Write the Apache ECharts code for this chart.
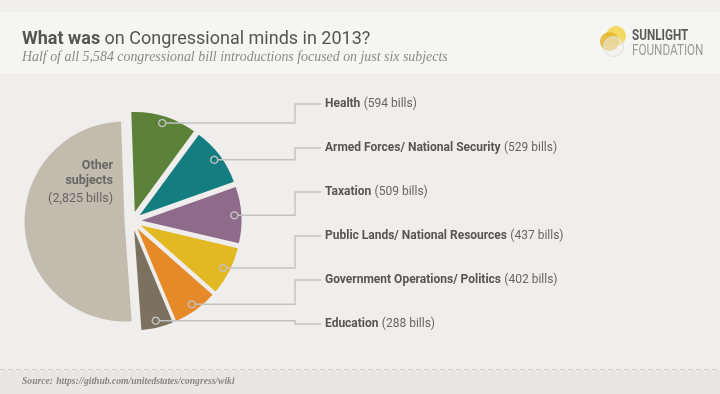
<!DOCTYPE html>
<html><head><meta charset="utf-8">
<script src="https://cdn.jsdelivr.net/npm/echarts@6/dist/echarts.min.js"></script>
<style>html,body{margin:0;padding:0;background:#efeeec}#c{width:720px;height:394px}</style>
</head><body><div id="c"></div>
<script>
// ---- data ----
const subjects = ['Health', 'Armed Forces/ National Security', 'Taxation', 'Public Lands/ National Resources', 'Government Operations/ Politics', 'Education', 'Other subjects'];
const bills = [594, 529, 509, 437, 402, 288, 2825];
const sliceColors = ['#5b8238', '#137d7f', '#8e6b8b', '#e2b823', '#e68a29', '#7c705e', '#c1bcad'];

// ---- layout ----
const total = bills.reduce((a, b) => a + b, 0);
const START = 92;
const CX = 132, CY = 221, R = 100;
const OFF = 9.5, OFF_OTHER = 7.5;
const LABEL_X = 325, LINE_X = 295, LABEL_Y0 = 104, LABEL_STEP = 44;
const fmt = n => n.toLocaleString('en-US');

let cum = 0;
const mids = bills.map(v => { const m = START - (cum + v / 2) / total * 360; cum += v; return m; });

function ring(cx, cy, rad) {
  const pts = [];
  for (let k = 0; k <= 24; k++) { const a = 2 * Math.PI * k / 24; pts.push([cx + rad * Math.cos(a), cy + rad * Math.sin(a)]); }
  return pts;
}

const richStyles = {
  b: { fontFamily: 'Roboto', fontWeight: 'bold', fontSize: 12, color: '#555555' },
  n: { fontFamily: 'Roboto', fontSize: 12, color: '#666666' },
  ob: { fontFamily: 'Roboto', fontWeight: 'bold', fontSize: 12.5, color: '#666666', lineHeight: 15, align: 'right' },
  on: { fontFamily: 'Roboto', fontSize: 12.5, color: '#666666', lineHeight: 20, align: 'right' }
};

const lastIdx = bills.length - 1;
function centerOf(i) {
  const off = i === lastIdx ? OFF_OTHER : OFF;
  const rad = mids[i] * Math.PI / 180;
  return [CX + off * Math.cos(rad), CY - off * Math.sin(rad)];
}

// slices: one series per exploded slice
const sliceSeries = bills.map((_, i) => {
  const isOther = i === lastIdx;
  return {
    type: 'pie', silent: true, animation: false, z: 2,
    startAngle: START, clockwise: true,
    center: centerOf(i), radius: [0, R],
    avoidLabelOverlap: false,
    emphasis: { disabled: true },
    data: bills.map((v, j) => ({
      name: subjects[j], value: v,
      itemStyle: { color: j === i ? sliceColors[j] : 'rgba(0,0,0,0)', borderWidth: 0 },
      label: { show: isOther && j === i },
      labelLine: { show: false }
    })),
    label: {
      position: 'outside',
      formatter: p => '{ob|Other}\n{ob|subjects}\n{on|(' + fmt(p.value) + ' bills)}',
      rich: richStyles
    },
    labelLayout: params => (params.dataIndex === lastIdx ? { x: 113, y: 183.5, align: 'right', verticalAlign: 'middle' } : {})
  };
});

// labels + leader lines: transparent twins drawn above the slices
const labelSeries = bills.slice(0, lastIdx).map((_, i) => ({
  type: 'pie', silent: true, animation: false, z: 5,
  startAngle: START, clockwise: true,
  center: centerOf(i), radius: [0, R],
  avoidLabelOverlap: false,
  emphasis: { disabled: true },
  data: bills.map((v, j) => ({
    name: subjects[j], value: v,
    itemStyle: { color: 'rgba(0,0,0,0)', borderWidth: 0 },
    label: { show: j === i },
    labelLine: { show: j === i }
  })),
  label: {
    position: 'outside',
    formatter: p => '{b|' + p.name + '} {n|(' + fmt(p.value) + ' bills)}',
    rich: richStyles
  },
  labelLine: { length: 10, length2: 10, smooth: false, lineStyle: { color: '#c2c2c2', width: 1.4 } },
  labelLayout: params => {
    if (params.dataIndex !== i) return {};
    const pts = params.labelLinePoints;
    const p0 = pts[0], p1 = pts[1];
    const dx = p1[0] - p0[0], dy = p1[1] - p0[1], len = Math.hypot(dx, dy) || 1;
    const c = [p0[0] - dx / len * 7, p0[1] - dy / len * 7];
    const ly = LABEL_Y0 + i * LABEL_STEP;
    return {
      x: LABEL_X, y: ly, align: 'left', verticalAlign: 'middle',
      labelLinePoints: ring(c[0], c[1], 3.5).concat([[LINE_X, c[1]], [LINE_X, ly], [LABEL_X - 4, ly]])
    };
  }
}));

const chart = echarts.init(document.getElementById('c'), null, { renderer: 'canvas' });
chart.setOption({
  backgroundColor: '#efeeec',
  animation: false,
  graphic: [
    { type: 'rect', z: -10, shape: { x: 0, y: 12, width: 720, height: 62 }, style: { fill: '#f5f5f4' } },
    { type: 'rect', z: -10, shape: { x: 0, y: 370, width: 720, height: 24 }, style: { fill: '#e8e7e5' } },
    { type: 'line', z: -9, shape: { x1: 0, y1: 369.5, x2: 720, y2: 369.5 }, style: { stroke: '#d2d0cd', lineWidth: 1, lineDash: [5, 3] } },
    // title + subtitle
    { type: 'text', x: 22, y: 39, style: { text: '{tb|What was }{tr|on Congressional minds in 2013?}', verticalAlign: 'middle',
      rich: { tb: { fontFamily: 'Roboto', fontWeight: 'bold', fontSize: 18, fill: '#555555' },
              tr: { fontFamily: 'Roboto', fontSize: 18, fill: '#555555' } } } },
    { type: 'text', x: 22, y: 57, style: { text: 'Half of all ' + fmt(total) + ' congressional bill introductions focused on just six subjects',
      font: 'italic 13.9px "Liberation Serif"', fill: '#8a8a8a', verticalAlign: 'middle' } },
    // source
    { type: 'text', x: 22, y: 376, style: { text: '{s|Source:} {u|https://github.com/unitedstates/congress/wiki}',
      rich: { s: { fontFamily: 'Liberation Serif', fontStyle: 'italic', fontWeight: 'bold', fontSize: 9.6, fill: '#8a8584' },
              u: { fontFamily: 'Liberation Serif', fontStyle: 'italic', fontWeight: 'bold', fontSize: 9.6, fill: '#8a8584' } } } },
    // logo
    { type: 'circle', shape: { cx: 616, cy: 36, r: 10 }, style: { fill: '#f6d650', opacity: 0.9 } },
    { type: 'circle', shape: { cx: 609.5, cy: 41.5, r: 9.5 }, style: { fill: '#e4b52a', opacity: 0.85 } },
    { type: 'circle', shape: { cx: 613.5, cy: 46.5, r: 10 }, style: { fill: 'rgba(236,239,237,0.55)', stroke: '#dde1de', lineWidth: 1 } },
    { type: 'text', x: 632, y: 29, scaleX: 0.78, style: { text: 'SUNLIGHT', font: 'bold 15px Roboto', fill: '#5a5a5a' } },
    { type: 'text', x: 632, y: 44, scaleX: 0.78, style: { text: 'FOUNDATION', font: '15px Roboto', fill: '#9a9a9a' } }
  ],
  series: sliceSeries.concat(labelSeries)
});
</script>
</body></html>
